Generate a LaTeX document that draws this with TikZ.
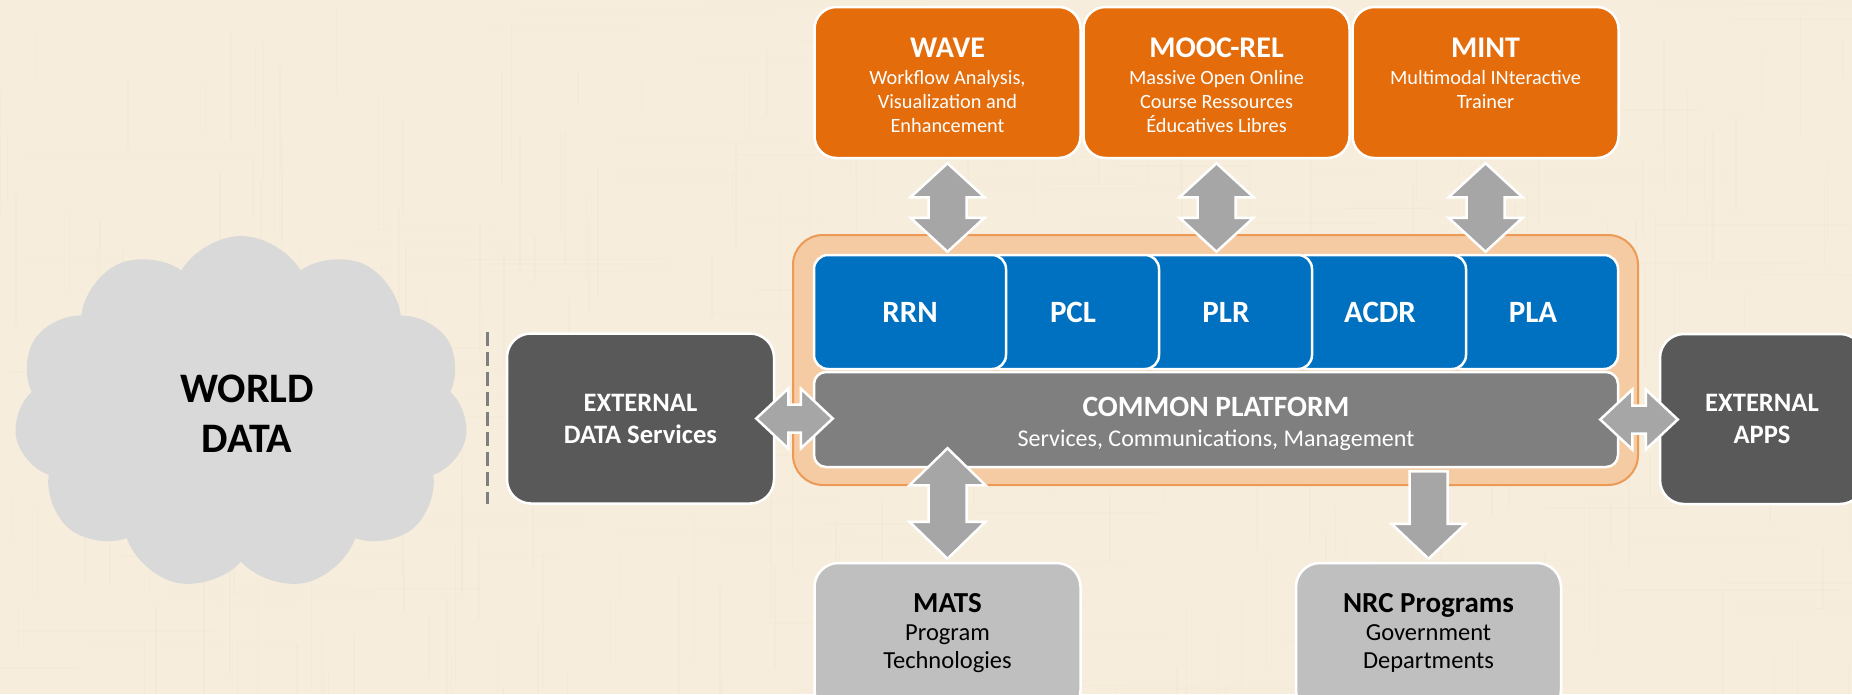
\documentclass[tikz,border=0pt]{standalone}
\usepackage{fontspec}
\setmainfont{Carlito}
\usetikzlibrary{calc,shapes.symbols}
\definecolor{bg}{HTML}{F6EDDC}
\definecolor{streak}{HTML}{E9DCC2}
\definecolor{orangeb}{HTML}{E46C0A}
\definecolor{blueb}{HTML}{0070C0}
\definecolor{darkb}{HTML}{595959}
\definecolor{cpgray}{HTML}{7F7F7F}
\definecolor{lightb}{HTML}{BFBFBF}
\definecolor{arrowg}{HTML}{A6A6A6}
\definecolor{cloudg}{HTML}{D9D9D9}
\definecolor{contfill}{HTML}{F4CBA2}
\definecolor{contdraw}{HTML}{EC9A55}
\definecolor{dashg}{HTML}{7F7F7F}
\newcommand\fs[2]{\fontsize{#1}{#2}\selectfont}
% double block arrow: #1 from, #2 to, #3 shaft half width, #4 head half width, #5 head length
\newcommand\dblarrow[5]{%
  \coordinate (ha) at ($(#1)!#5!(#2)$);
  \coordinate (hb) at ($(#2)!#5!(#1)$);
  \path[blockarrow] (#1) -- ($(ha)!#4!90:(#2)$) -- ($(ha)!#3!90:(#2)$)
    -- ($(hb)!#3!-90:(#1)$) -- ($(hb)!#4!-90:(#1)$) -- (#2)
    -- ($(hb)!#4!90:(#1)$) -- ($(hb)!#3!90:(#1)$)
    -- ($(ha)!#3!-90:(#2)$) -- ($(ha)!#4!-90:(#2)$) -- cycle;}
% single block arrow: flat at #1, head at #2
\newcommand\sglarrow[5]{%
  \coordinate (hb) at ($(#2)!#5!(#1)$);
  \path[blockarrow] ($(#1)!#3!90:(#2)$) -- ($(hb)!#3!-90:(#1)$)
    -- ($(hb)!#4!-90:(#1)$) -- (#2) -- ($(hb)!#4!90:(#1)$)
    -- ($(hb)!#3!90:(#1)$) -- ($(#1)!#3!-90:(#2)$) -- cycle;}
\begin{document}
\begin{tikzpicture}[x=1pt,y=-1pt,
  blockarrow/.style={fill=arrowg,draw=white,line width=2.5pt,line join=miter},
  obox/.style={rectangle,rounded corners=22pt,fill=orangeb,draw=white,line width=2.5pt,
    minimum width=266pt,minimum height=151pt,inner sep=0pt},
  otext/.style={anchor=north,align=center,text=white,inner sep=0pt,font=\fs{20.3}{24}},
  bluebox/.style={rectangle,rounded corners=14pt,fill=blueb,draw=white,line width=2.5pt,
    minimum height=114pt,inner sep=0pt,text=white,font=\fs{31}{37}\bfseries},
  cpbox/.style={rectangle,rounded corners=12pt,fill=cpgray,draw=white,line width=2.5pt,
    minimum width=804pt,minimum height=95pt,inner sep=0pt},
  extbox/.style={rectangle,rounded corners=24pt,fill=darkb,draw=white,line width=2.5pt,
    minimum height=170pt,inner sep=0pt,text=white,align=center,font=\fs{26.6}{32}\bfseries},
  lbox/.style={rectangle,rounded corners=24pt,fill=lightb,draw=white,line width=2.5pt,
    minimum width=266pt,minimum height=151pt,inner sep=0pt},
  ltext/.style={anchor=north,align=center,text=black,inner sep=0pt,font=\fs{24.5}{28}},
  contbox/.style={rectangle,rounded corners=30pt,fill=contfill,draw=contdraw,line width=2pt,
    minimum width=845pt,minimum height=250pt},
  dashline/.style={draw=dashg,line width=3pt,dash pattern=on 14pt off 6pt}]
\useasboundingbox (0,0) rectangle (1852,694);
\clip (0,0) rectangle (1852,694);
\fill[bg] (0,0) rectangle (1852,694);
% very faint linen texture
\pgfmathsetseed{7}
\foreach \i in {1,...,260}{
  \pgfmathsetmacro\tx{rnd*1852}
  \pgfmathsetmacro\ty{rnd*694}
  \pgfmathsetmacro\tl{30+rnd*120}
  \draw[streak,line width=1.5pt,opacity=0.14] (\tx,\ty) -- ++(0,\tl);
}
\foreach \i in {1,...,120}{
  \pgfmathsetmacro\tx{rnd*1852}
  \pgfmathsetmacro\ty{rnd*694}
  \pgfmathsetmacro\tl{60+rnd*200}
  \draw[streak,line width=1.5pt,opacity=0.10] (\tx,\ty) -- ++(\tl,0);
}
% cloud
\node[cloud,cloud puffs=11,cloud puff arc=120,fill=cloudg,draw=none,
  minimum width=454pt,minimum height=354pt] (cloud) at (241,413) {};
\node[align=center,inner sep=0pt,font=\fs{42}{50}\bfseries] (world) at (247,414) {WORLD\\DATA};
\coordinate (d1) at (487,332);
\coordinate (d2) at (487,504);
\draw[dashline] (d1) -- (d2);
% container
\node[contbox] (cont) at (1215.5,360) {};
% blue boxes
\node[bluebox,minimum width=170pt] (pla) at (1533,312) {PLA};
\node[bluebox,minimum width=172pt] (acdr) at (1380,312) {ACDR};
\node[bluebox,minimum width=172pt] (plr) at (1226,312) {PLR};
\node[bluebox,minimum width=172pt] (pcl) at (1073,312) {PCL};
\node[bluebox,minimum width=192pt] (rrn) at (910,312) {RRN};
% common platform
\node[cpbox] (cp) at (1216,419.5) {};
\node[anchor=north,align=center,text=white,inner sep=0pt,font=\fs{24}{29}] (cp-t) at (1216,396.5)
  {{\fs{29.5}{30}\bfseries COMMON PLATFORM}\\[1pt]Services, Communications, Management};
% external boxes
\node[extbox,minimum width=267pt] (extd) at (640.5,418.5) {EXTERNAL\\DATA Services};
\node[extbox,minimum width=204pt] (apps) at (1762,419) {EXTERNAL\\APPS};
% orange boxes
\node[obox] (wave) at (947.5,82.5) {};
\node[obox] (mooc) at (1216.5,82.5) {};
\node[obox] (mint) at (1485.5,82.5) {};
\node[otext] (wave-t) at (947.5,38) {{\fs{30}{30}\bfseries WAVE}\\[2.6pt]Workflow Analysis,\\Visualization and\\Enhancement};
\node[otext] (mooc-t) at (1216.5,38) {{\fs{30}{30}\bfseries MOOC-REL}\\[2.6pt]Massive Open Online\\Course Ressources\\Éducatives Libres};
\node[otext] (mint-t) at (1485.5,38) {{\fs{30}{30}\bfseries MINT}\\[2.6pt]Multimodal INteractive\\Trainer};
% bottom boxes
\node[lbox] (mats) at (947.5,638.5) {};
\node[lbox,minimum width=265pt] (nrc) at (1428.5,638.5) {};
\node[ltext] (mats-t) at (947.5,593.5) {{\fs{29}{30}\bfseries MATS}\\Program\\Technologies};
\node[ltext] (nrc-t) at (1428.5,593.5) {{\fs{29}{30}\bfseries NRC Programs}\\Government\\Departments};
% arrows
\coordinate (a1s) at ($(wave.south)+(0,4)$);
\coordinate (a1e) at ($(wave.south |- rrn.north)+(0,-2)$);
\coordinate (a2s) at ($(mooc.south)+(0,4)$);
\coordinate (a2e) at ($(mooc.south |- plr.north)+(0,-2)$);
\coordinate (a3s) at ($(mint.south)+(0,4)$);
\coordinate (a3e) at ($(mint.south |- pla.north)+(0,-2)$);
\dblarrow{a1s}{a1e}{19pt}{37pt}{34pt}
\dblarrow{a2s}{a2e}{19pt}{37pt}{34pt}
\dblarrow{a3s}{a3e}{19pt}{37pt}{34pt}
\coordinate (a4s) at ($(extd.east)+(-19,0)$);
\coordinate (a4e) at ($(extd.east -| cp.west)+(20,0)$);
\dblarrow{a4s}{a4e}{14pt}{30pt}{32pt}
\coordinate (a5s) at ($(cp.east)+(-19,0)$);
\coordinate (a5e) at ($(cp.east -| apps.west)+(19,0)$);
\dblarrow{a5s}{a5e}{14pt}{30pt}{32pt}
\coordinate (a6s) at ($(mats.north)+(0,-3)$);
\coordinate (a6e) at ($(mats.north |- cp.south)+(0,-20)$);
\dblarrow{a6s}{a6e}{19pt}{38pt}{37pt}
\coordinate (a7s) at ($(nrc.north |- cp.south)+(0,3)$);
\coordinate (a7e) at ($(nrc.north)+(0,-3)$);
\sglarrow{a7s}{a7e}{19pt}{37pt}{35pt}
\end{tikzpicture}
\end{document}
